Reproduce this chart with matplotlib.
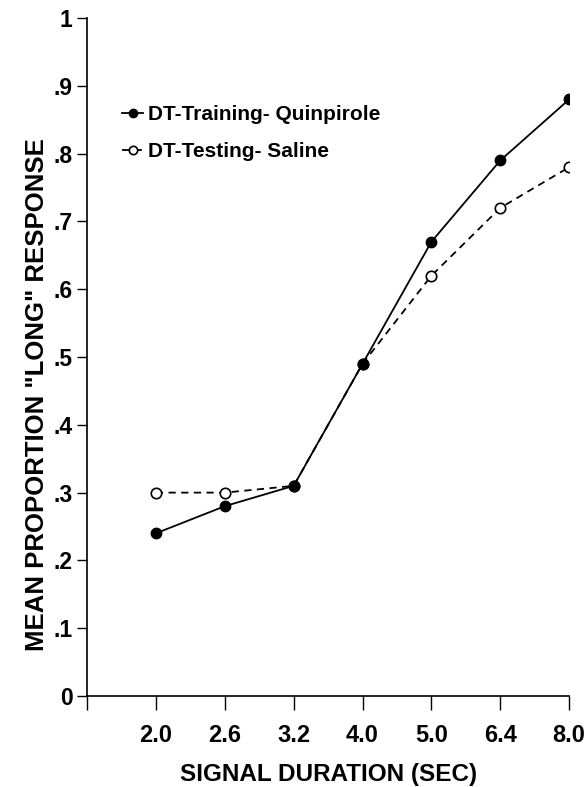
import matplotlib
matplotlib.use("Agg")
import matplotlib.pyplot as plt

# signal durations (sec), plotted at evenly spaced positions
durations = ["2.0", "2.6", "3.2", "4.0", "5.0", "6.4", "8.0"]
quinpirole = [0.24, 0.28, 0.31, 0.49, 0.67, 0.79, 0.88]
saline = [0.30, 0.30, 0.31, 0.49, 0.62, 0.72, 0.78]
y_ticks = [0, .1, .2, .3, .4, .5, .6, .7, .8, .9, 1]
y_labels = ["0", ".1", ".2", ".3", ".4", ".5", ".6", ".7", ".8", ".9", "1"]

plt.rcParams['font.family'] = ['Liberation Sans', 'DejaVu Sans']

fig = plt.figure(figsize=(5.88, 7.87), dpi=100)
ax = fig.add_axes([0.148, 0.1156, 0.820, 0.8615])

x = list(range(1, len(durations) + 1))

ax.plot(x, saline, color="black", lw=1.3, linestyle=(0, (4, 3)),
        marker="o", markersize=7.5, markerfacecolor="white",
        markeredgecolor="black", markeredgewidth=1.2,
        label="DT-Testing- Saline", zorder=2)
ax.plot(x, quinpirole, color="black", lw=1.3, linestyle="-",
        marker="o", markersize=7.5, markerfacecolor="black",
        markeredgecolor="black",
        label="DT-Training- Quinpirole", zorder=3)

ax.set_xlim(0, 7)
ax.set_ylim(0, 1)

ax.set_xticks([0] + x, [""] + durations, fontsize=17, fontweight="bold")
ax.set_yticks(y_ticks, y_labels, fontsize=16.5, fontweight="bold")
ax.tick_params(axis="x", direction="out", length=10, width=1, pad=10)
ax.tick_params(axis="y", direction="out", length=7, width=1, pad=3.5)

ax.spines["top"].set_visible(False)
ax.spines["right"].set_visible(False)
ax.spines["left"].set_linewidth(1.2)
ax.spines["bottom"].set_linewidth(1.2)

ax.set_xlabel("SIGNAL DURATION (SEC)", fontsize=17.5, fontweight="bold", labelpad=12)
ax.set_ylabel('MEAN PROPORTION "LONG" RESPONSE', fontsize=18.5, fontweight="bold")
ax.yaxis.set_label_coords(-0.079, 0.444)

handles, labels = ax.get_legend_handles_labels()
leg = ax.legend(handles[::-1], labels[::-1], loc="upper left",
                bbox_to_anchor=(0.073, 0.871), frameon=False,
                prop={"size": 15, "weight": "bold"},
                handlelength=1.0, handletextpad=0.25,
                borderpad=0, borderaxespad=0, labelspacing=0.85,
                markerscale=0.8)

fig.savefig("out.png", dpi=100)
